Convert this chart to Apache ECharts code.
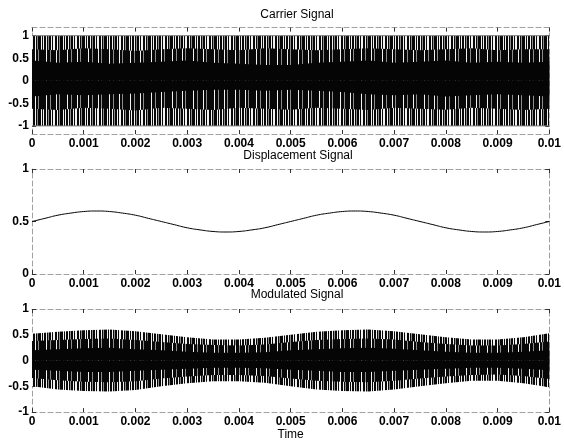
<!DOCTYPE html>
<html><head><meta charset="utf-8">
<script src="https://cdn.jsdelivr.net/npm/echarts@6/dist/echarts.min.js"></script>
<style>html,body{margin:0;padding:0;background:#fff}#c{width:564px;height:442px}</style>
</head><body><div id="c"></div>
<script>
// ---- data ----
const xTicks = [0,0.001,0.002,0.003,0.004,0.005,0.006,0.007,0.008,0.009,0.01];
const carrierYTicks = [-1,-0.5,0,0.5,1];
const dispYTicks = [0,0.5,1];
const modYTicks = [-1,-0.5,0,0.5,1];

// envelope sample times for the dense (unresolvable) oscillations
const bandTimes = [0,0.0005,0.001,0.0015,0.002,0.0025,0.003,0.0035,0.004,0.0045,0.005,0.0055,0.006,0.0065,0.007,0.0075,0.008,0.0085,0.009,0.0095,0.01];
// Carrier signal: outer peaks, dense-stripe zone, solid-black core
const carrierUpper = [1,1,1,1,1,1,1,1,1,1,1,1,1,1,1,1,1,1,1,1,1];
const carrierLower = [-1,-1,-1,-1,-1,-1,-1,-1,-1,-1,-1,-1,-1,-1,-1,-1,-1,-1,-1,-1,-1];
const carrierMidUpper = [0.7,0.68,0.72,0.7,0.66,0.7,0.72,0.7,0.68,0.72,0.7,0.68,0.7,0.72,0.7,0.68,0.7,0.72,0.68,0.7,0.7];
const carrierMidLower = [-0.62,-0.65,-0.6,-0.62,-0.66,-0.6,-0.62,-0.65,-0.6,-0.62,-0.64,-0.6,-0.62,-0.65,-0.6,-0.62,-0.64,-0.6,-0.62,-0.65,-0.62];
const carrierCoreUpper = [0.45,0.4,0.42,0.38,0.4,0.42,0.45,0.4,0.38,0.35,0.35,0.4,0.42,0.45,0.4,0.42,0.45,0.4,0.42,0.4,0.42];
const carrierCoreLower = [-0.35,-0.3,-0.32,-0.3,-0.28,-0.25,-0.22,-0.2,-0.2,-0.22,-0.2,-0.22,-0.25,-0.3,-0.32,-0.3,-0.35,-0.32,-0.3,-0.32,-0.35];

// Displacement signal
const dispTimes = [0,0.00025,0.0005,0.00075,0.001,0.00125,0.0015,0.00175,0.002,0.00225,0.0025,0.00275,0.003,0.00325,0.0035,0.00375,0.004,0.00425,0.0045,0.00475,0.005,0.00525,0.0055,0.00575,0.006,0.00625,0.0065,0.00675,0.007,0.00725,0.0075,0.00775,0.008,0.00825,0.0085,0.00875,0.009,0.00925,0.0095,0.00975,0.01];
const displacement = [0.5,0.53,0.56,0.58,0.595,0.6,0.595,0.58,0.56,0.53,0.5,0.47,0.44,0.42,0.405,0.4,0.405,0.42,0.44,0.47,0.5,0.53,0.56,0.58,0.595,0.6,0.595,0.58,0.56,0.53,0.5,0.47,0.44,0.42,0.405,0.4,0.405,0.42,0.44,0.47,0.5];

// Modulated signal envelopes
const modUpper = [0.52,0.56,0.59,0.6,0.57,0.51,0.45,0.41,0.41,0.44,0.5,0.56,0.59,0.6,0.57,0.51,0.45,0.41,0.41,0.45,0.53];
const modLower = [-0.5,-0.56,-0.59,-0.6,-0.57,-0.5,-0.44,-0.4,-0.4,-0.43,-0.5,-0.56,-0.59,-0.6,-0.56,-0.5,-0.44,-0.39,-0.39,-0.44,-0.52];
const modMidUpper = [0.38,0.4,0.42,0.43,0.4,0.36,0.32,0.3,0.29,0.31,0.36,0.4,0.42,0.43,0.41,0.36,0.32,0.29,0.29,0.32,0.37];
const modMidLower = [-0.34,-0.38,-0.41,-0.42,-0.4,-0.35,-0.31,-0.28,-0.28,-0.3,-0.35,-0.39,-0.41,-0.42,-0.39,-0.35,-0.31,-0.28,-0.27,-0.3,-0.36];
const modCoreUpper = [0.2,0.22,0.24,0.25,0.22,0.2,0.17,0.15,0.15,0.16,0.2,0.22,0.24,0.25,0.23,0.2,0.17,0.15,0.15,0.17,0.2];
const modCoreLower = [-0.18,-0.2,-0.22,-0.22,-0.2,-0.18,-0.16,-0.14,-0.14,-0.15,-0.18,-0.2,-0.22,-0.22,-0.2,-0.18,-0.16,-0.14,-0.14,-0.16,-0.19];

// ---- styling helpers ----
function stripes(code){
  const map = {'#':'#080808', '.':'#f2f2f2', ':':'#8c8c8c'};
  const c = document.createElement('canvas');
  c.width = code.length; c.height = 1;
  const ctx = c.getContext('2d');
  for (let i = 0; i < code.length; i++){ ctx.fillStyle = map[code[i]]; ctx.fillRect(i,0,1,1); }
  return {image: c, repeat: 'repeat'};
}
const outerPat = stripes('##.#:##.#..##.#:###.#.');
const midPat = stripes('####.###:#####.##:###');

const FONT = '"Liberation Sans", Arial, Helvetica, sans-serif';
const frame = {color:'#a0a0a0', width:1, type:[5,3]};
const tick = {color:'#333', width:1};
const labelStyle = {color:'#000', fontSize:12, fontFamily:FONT, fontWeight:'bold'};
const fmt = v => (Math.abs(v) < 1e-12 ? '0' : String(+v.toFixed(4)));

const grids = [
  {left:32, right:14, top:27.6, height:106.4},
  {left:32, right:14, top:169, height:105},
  {left:32, right:14, top:309, height:105}
];
const yRanges = [[-1.18,1.18,carrierYTicks],[0,1,dispYTicks],[-1,1,modYTicks]];

const xAxis = [], yAxis = [];
grids.forEach((g, gi) => {
  const [ymin, ymax, yt] = yRanges[gi];
  xAxis.push({type:'value', gridIndex:gi, min:0, max:0.01, position:'bottom',
    axisLine:{show:true, onZero:false, lineStyle:frame},
    axisTick:{show:true, inside:true, length:4, customValues:xTicks, lineStyle:tick},
    axisLabel:Object.assign({customValues:xTicks, formatter:fmt, margin:4}, labelStyle),
    splitLine:{show:false},
    name: gi === 2 ? 'Time' : '', nameLocation:'middle', nameGap:15,
    nameTextStyle:{color:'#000', fontSize:12, fontFamily:FONT}});
  xAxis.push({type:'value', gridIndex:gi, min:0, max:0.01, position:'top',
    axisLine:{show:true, onZero:false, lineStyle:frame},
    axisTick:{show:true, inside:true, length:4, customValues:xTicks, lineStyle:tick},
    axisLabel:{show:false}, splitLine:{show:false}});
  yAxis.push({type:'value', gridIndex:gi, min:ymin, max:ymax, position:'left',
    axisLine:{show:true, onZero:false, lineStyle:frame},
    axisTick:{show:true, inside:true, length:4, customValues:yt, lineStyle:tick},
    axisLabel:Object.assign({customValues:yt, formatter:fmt, margin:3}, labelStyle),
    splitLine:{show:false}});
  yAxis.push({type:'value', gridIndex:gi, min:ymin, max:ymax, position:'right',
    axisLine:{show:true, onZero:false, lineStyle:frame},
    axisTick:{show:true, inside:true, length:4, customValues:yt, lineStyle:tick},
    axisLabel:{show:false}, splitLine:{show:false}});
});

const zip = (xs, ys) => xs.map((x, i) => [x, ys[i]]);
function band(gi, vals, fill, edge){
  return {type:'line', xAxisIndex:2*gi, yAxisIndex:2*gi, data:zip(bandTimes, vals),
    symbol:'none', smooth:false, silent:true,
    lineStyle: edge ? {color:edge, width:1} : {width:0, opacity:0},
    areaStyle:{origin:0, color:fill, opacity:1}};
}

const series = [
  band(0, carrierUpper, outerPat, '#777'),
  band(0, carrierLower, outerPat, '#777'),
  band(0, carrierMidUpper, midPat),
  band(0, carrierMidLower, midPat),
  band(0, carrierCoreUpper, '#050505'),
  band(0, carrierCoreLower, '#050505'),
  {type:'line', xAxisIndex:2, yAxisIndex:2, data:zip(dispTimes, displacement),
    symbol:'none', smooth:true, silent:true, lineStyle:{color:'#000', width:1}},
  band(2, modUpper, outerPat),
  band(2, modLower, outerPat),
  band(2, modMidUpper, midPat),
  band(2, modMidLower, midPat),
  band(2, modCoreUpper, '#050505'),
  band(2, modCoreLower, '#050505')
];

function titleText(txt, x, y){
  return {type:'text', x:x, y:y, silent:true,
    style:{text:txt, font:'12px ' + FONT, fill:'#000', align:'center', verticalAlign:'middle',
      textAlign:'center', textVerticalAlign:'middle'}};
}

const chart = echarts.init(document.getElementById('c'), null, {renderer:'canvas'});
chart.setOption({
  animation:false,
  backgroundColor:'#fff',
  grid: grids,
  xAxis: xAxis,
  yAxis: yAxis,
  series: series,
  graphic: [
    titleText('Carrier Signal', 297, 15),
    titleText('Displacement Signal', 298, 156),
    titleText('Modulated Signal', 297, 295)
  ]
});
</script>
</body></html>
